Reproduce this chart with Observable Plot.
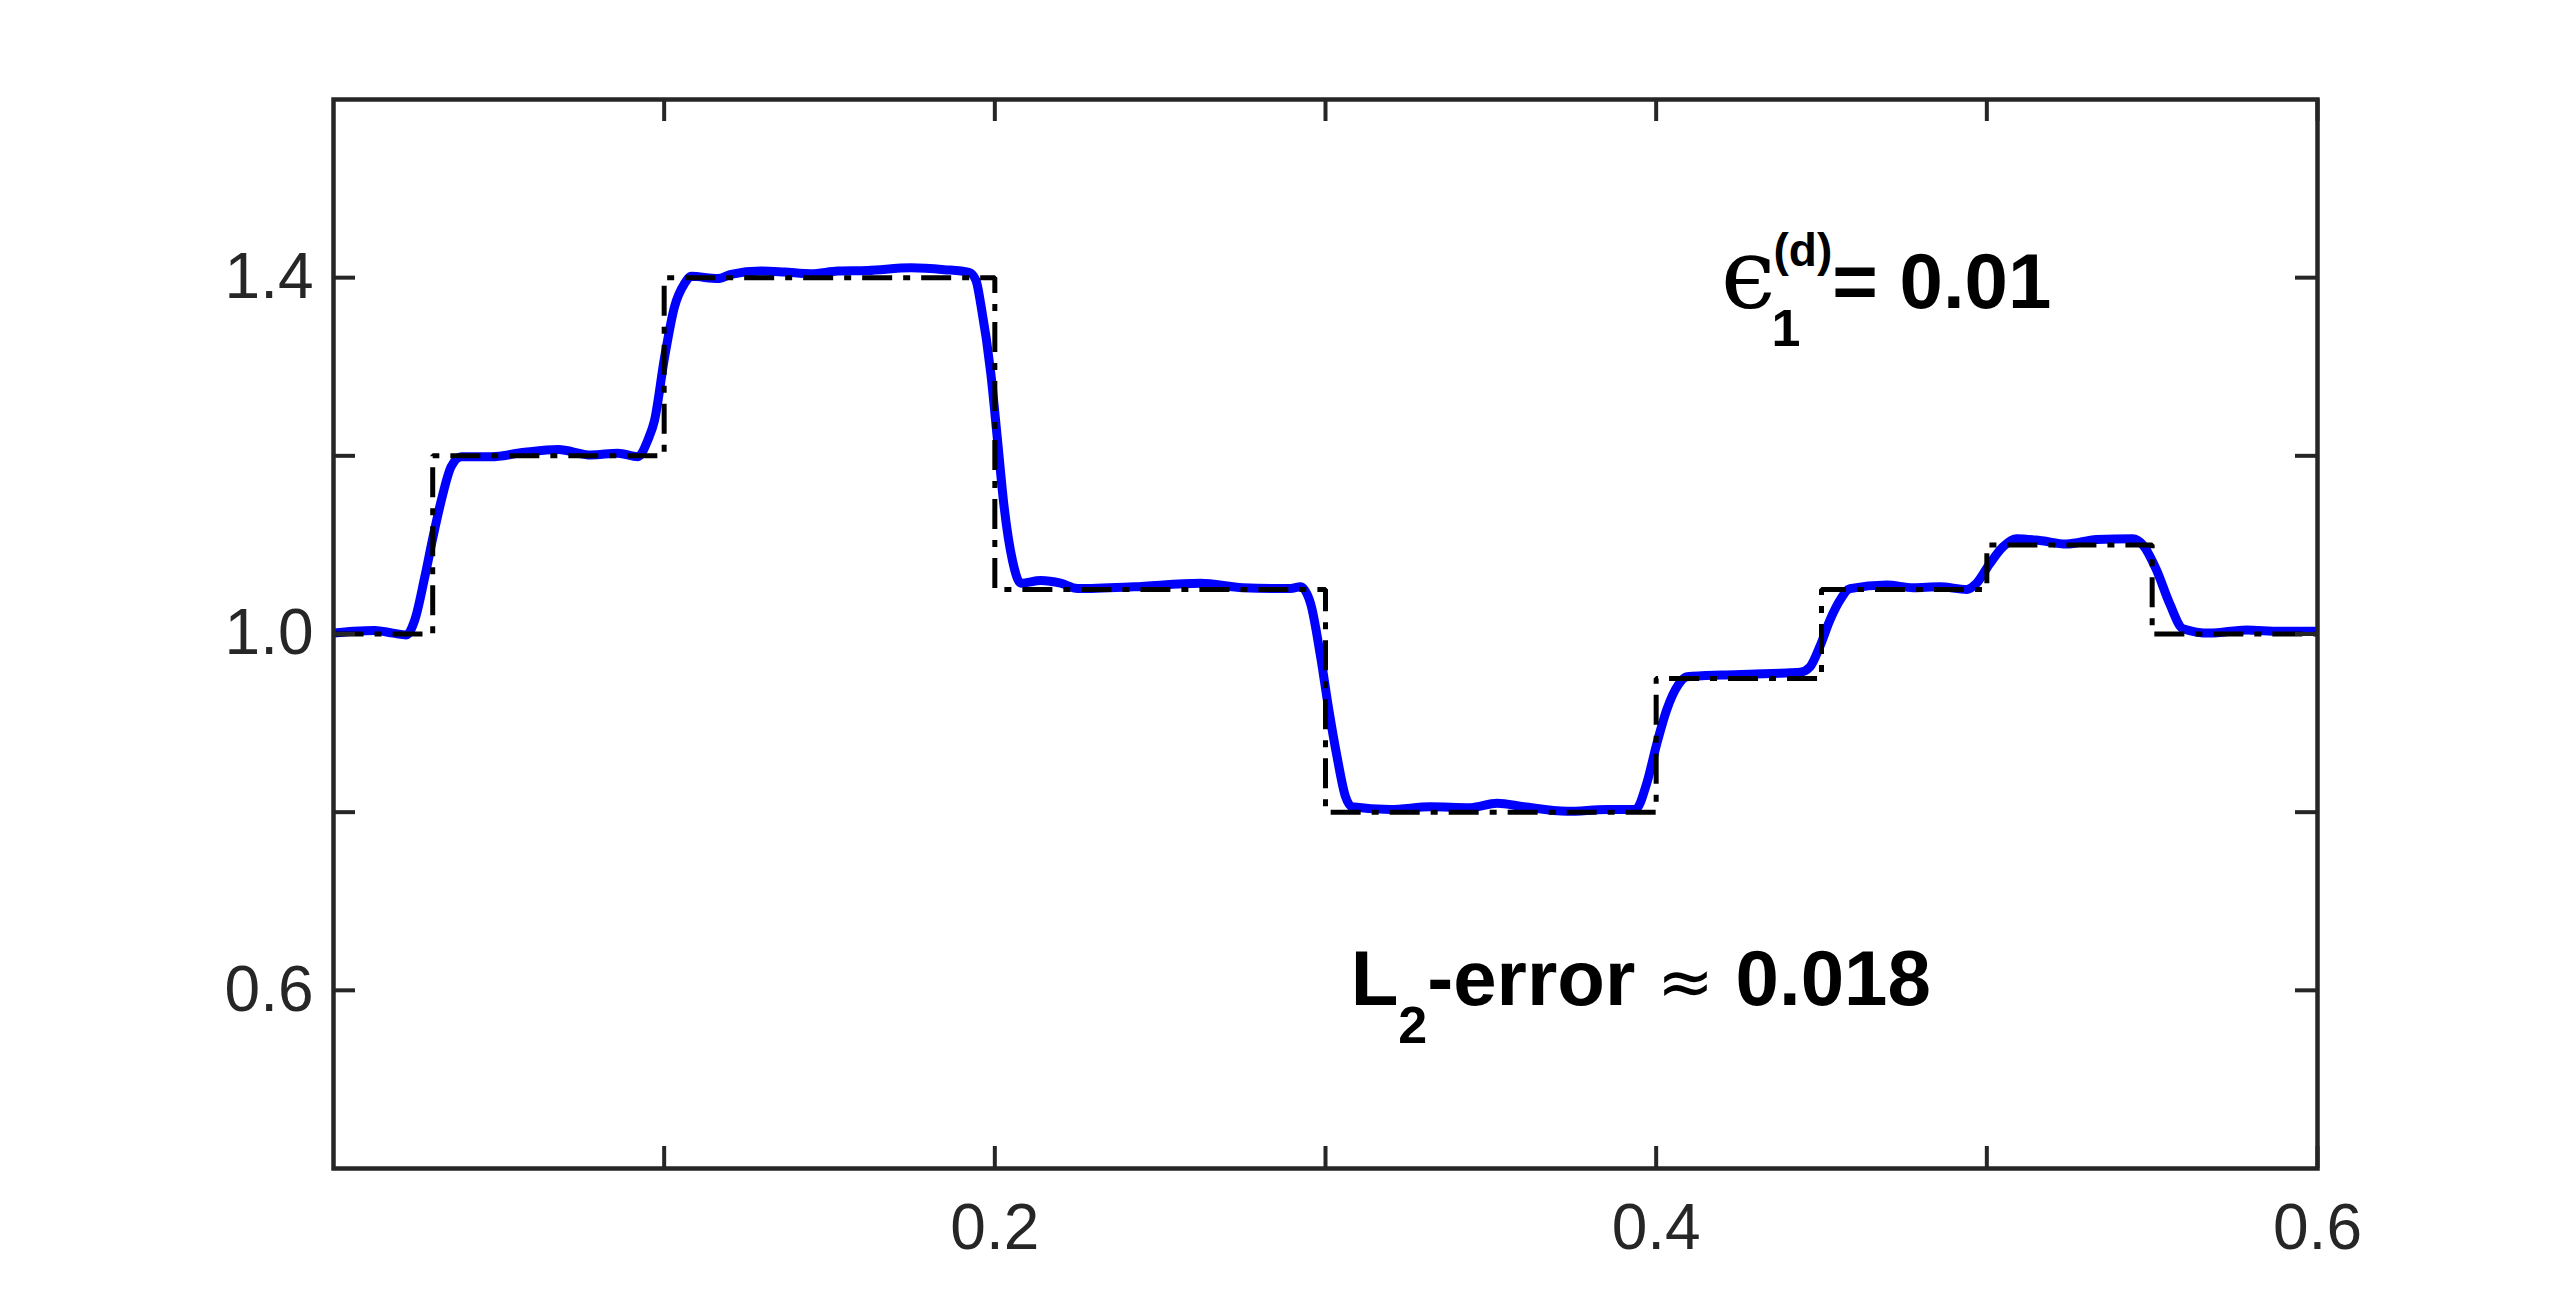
<!DOCTYPE html>
<html><head><meta charset="utf-8">
<script src="https://cdn.jsdelivr.net/npm/d3@7"></script>
<script src="https://cdn.jsdelivr.net/npm/@observablehq/plot@0.6"></script>
<style>html,body{margin:0;padding:0;background:#fff;overflow:hidden;}</style>
</head><body><div id="chart"></div>
<script>
// Numerical solution (blue)
const blueX = [0.000,0.006,0.0125,0.018,0.022,0.0246,0.0276,0.0301,0.0326,0.0356,0.0387,0.0477,0.0578,0.0679,0.0779,0.086,0.092,0.0951,0.0971,0.1001,0.1031,0.1061,0.1082,0.1162,0.1202,0.1293,0.1364,0.1444,0.1525,0.1615,0.1746,0.1847,0.1922,0.1943,0.1958,0.1988,0.2008,0.2028,0.2053,0.2079,0.2139,0.2199,0.225,0.242,0.2622,0.275,0.2894,0.2924,0.2955,0.2985,0.301,0.3035,0.306,0.308,0.3196,0.3317,0.3438,0.3519,0.36,0.373,0.3851,0.3937,0.3972,0.4002,0.4032,0.4067,0.4093,0.42,0.43,0.4375,0.4435,0.4465,0.4495,0.4526,0.4556,0.4586,0.4697,0.4777,0.4858,0.4939,0.4969,0.5009,0.5049,0.509,0.516,0.5241,0.5331,0.5442,0.5472,0.5513,0.5553,0.5593,0.5674,0.5785,0.5885,0.6];
const blueY = [1.001,1.003,1.004,1.001,0.999,1.016,1.064,1.109,1.150,1.188,1.199,1.199,1.204,1.207,1.201,1.203,1.199,1.218,1.24,1.31,1.367,1.393,1.4015,1.399,1.4037,1.4074,1.4063,1.4045,1.4074,1.408,1.411,1.409,1.406,1.397,1.369,1.292,1.218,1.143,1.083,1.057,1.060,1.057,1.051,1.053,1.057,1.052,1.051,1.053,1.034,0.975,0.915,0.862,0.818,0.806,0.803,0.806,0.805,0.810,0.806,0.801,0.803,0.803,0.833,0.877,0.915,0.943,0.952,0.954,0.955,0.956,0.957,0.963,0.986,1.016,1.038,1.051,1.055,1.052,1.053,1.050,1.057,1.079,1.098,1.107,1.105,1.101,1.106,1.107,1.100,1.072,1.034,1.006,1.001,1.0045,1.003,1.003];
// Exact solution (black dash-dot step)
const exactX = [0, 0.03, 0.1, 0.2, 0.3, 0.4, 0.45, 0.5, 0.55, 0.6];
const exactY = [1.0, 1.2, 1.4, 1.05, 0.8, 0.95, 1.05, 1.1, 1.0, 1.0];
// Axes
const xTicks = [0.1, 0.2, 0.3, 0.4, 0.5, 0.6];
const xTickLabels = [0.2, 0.4, 0.6];
const yTicks = [0.6, 0.8, 1.0, 1.2, 1.4];
const yTickLabels = [0.6, 1.0, 1.4];
// Annotations (baseline positions)
const annotX = [0.4195, 0.3076];
const annotY = [1.3656, 0.584];
const annotParts = [
  [["ϵ", "greek"], ["1", "sub"], ["(d)", "sup"], ["= 0.01", "base"]],
  [["L", "base"], ["2", "sub"], ["-error ", "base"], ["≈", "symbol"], [" 0.018", "base"]]
];

const blue = blueX.map((x, i) => ({x, y: blueY[i]}));
const exact = exactX.map((x, i) => ({x, y: exactY[i]}));
const annots = annotX.map((x, i) => ({x, y: annotY[i], text: annotParts[i].map(p => p[0]).join("")}));

const W = 2560, H = 1314, mL = 333, mR = 243, mT = 99, mB = 146;
const innerW = W - mL - mR, innerH = H - mT - mB;
const tickLen = 22, axisColor = "#262626";

const chart = Plot.plot({
  width: W, height: H,
  marginLeft: mL, marginRight: mR, marginTop: mT, marginBottom: mB,
  x: {domain: [0, 0.6]},
  y: {domain: [0.4, 1.6]},
  style: {fontFamily: "'Liberation Sans', Arial, Helvetica, sans-serif", fontSize: "64px", color: axisColor, background: "white", overflow: "visible"},
  marks: [
    Plot.line(blue, {x: "x", y: "y", stroke: "#0000ff", strokeWidth: 9, curve: "monotone-x", strokeLinecap: "butt"}),
    Plot.line(exact, {x: "x", y: "y", stroke: "black", strokeWidth: 5, curve: "step-after", strokeDasharray: "30,11,7,11", strokeLinecap: "butt", strokeLinejoin: "miter"}),
    Plot.tickX(xTicks, {x: d => d, stroke: axisColor, strokeWidth: 4, insetTop: innerH - tickLen}),
    Plot.tickX(xTicks, {x: d => d, stroke: axisColor, strokeWidth: 4, insetBottom: innerH - tickLen}),
    Plot.tickY(yTicks, {y: d => d, stroke: axisColor, strokeWidth: 4, insetRight: innerW - tickLen}),
    Plot.tickY(yTicks, {y: d => d, stroke: axisColor, strokeWidth: 4, insetLeft: innerW - tickLen}),
    Plot.frame({stroke: axisColor, strokeWidth: 4.5}),
    Plot.axisX(xTickLabels, {tickSize: 0, tickPadding: 35, tickFormat: d3.format(".1f"), fontSize: 64, label: null}),
    Plot.axisY(yTickLabels, {tickSize: 0, tickPadding: 20, tickFormat: d3.format(".1f"), fontSize: 64, label: null}),
    Plot.text(annots, {x: "x", y: "y", text: "text", textAnchor: "start", fill: "black", fontSize: 78, fontWeight: "bold"})
  ]
});
document.getElementById("chart").appendChild(chart);

// Rich text: sub/superscripts, baseline placed at the data point
const styles = {
  base: {size: 78, weight: "bold", family: "'Liberation Sans', Arial, sans-serif", shift: 0},
  greek: {size: 98, weight: "normal", family: "'DejaVu Serif', serif", shift: 0},
  symbol: {size: 68, weight: "normal", family: "'DejaVu Sans', sans-serif", shift: 0},
  sub: {size: 52, weight: "bold", family: "'Liberation Sans', Arial, sans-serif", shift: 38},
  sup: {size: 46, weight: "bold", family: "'Liberation Sans', Arial, sans-serif", shift: -42}
};
d3.select(chart).selectAll("text").each(function() {
  const idx = annots.findIndex(a => a.text === this.textContent);
  if (idx < 0) return;
  const t = d3.select(this).style("white-space", "pre");
  const ya = this.getAttribute("y");
  if (ya && /em$/.test(ya)) t.attr("y", null);
  const dya = this.getAttribute("dy");
  if (dya && /em$/.test(dya)) t.attr("dy", null);
  t.text(null);
  let cur = 0, lastSub = null;
  for (const [s, role] of annotParts[idx]) {
    const st = styles[role];
    const ts = t.append("tspan").text(s)
      .attr("font-size", st.size).attr("font-weight", st.weight).attr("font-family", st.family)
      .attr("dy", st.shift - cur);
    if (role === "sup" && lastSub) ts.attr("dx", -lastSub.getComputedTextLength() + 2);
    if (role === "greek") ts.attr("letter-spacing", -4);
    lastSub = role === "sub" ? ts.node() : null;
    cur = st.shift;
  }
});
</script>
</body></html>
